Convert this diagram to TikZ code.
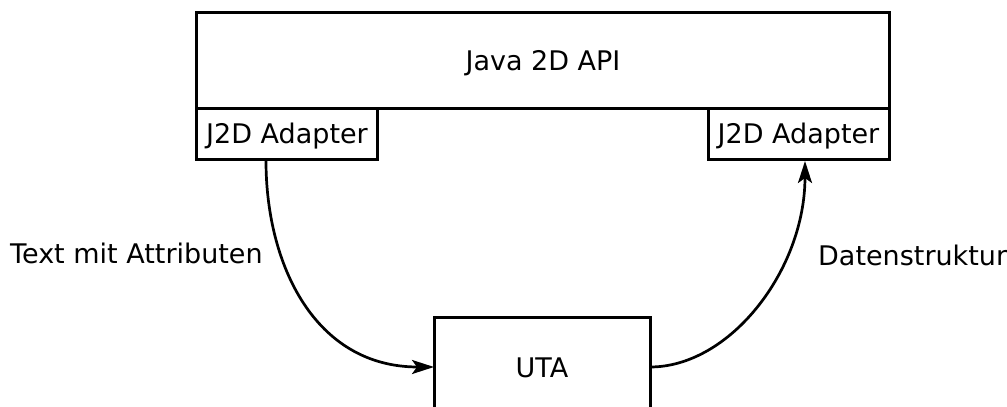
\documentclass[tikz,border=0pt]{standalone}
\usepackage{fontspec}
\setmainfont{DejaVu Sans}
\usetikzlibrary{arrows.meta}
\begin{document}
\begin{tikzpicture}[x=1pt,y=-1pt,
  box/.style={draw,line width=3pt},
  lbl/.style={font=\fontsize{27}{32}\selectfont,inner sep=0pt,anchor=base},
  conn/.style={line width=2.7pt,-{Stealth[length=22pt,width=14pt,inset=5pt]}}]
\useasboundingbox (0,0) rectangle (1007,407);
\draw[box] (196,12) rectangle (889,108);
\node[lbl] (api) at (543,70) {Java 2D API};
\draw[box] (196,108) rectangle (377,159);
\node[lbl] (la) at (287,143) {J2D Adapter};
\draw[box] (708,108) rectangle (889,159);
\node[lbl] (ra) at (798.5,143) {J2D Adapter};
\draw[box] (434,317) rectangle (650,420);
\node[lbl] (uta) at (542,377) {UTA};
\coordinate (l0) at (266,161);
\coordinate (l1) at (434,367);
\coordinate (r0) at (650,367);
\coordinate (r1) at (805,161);
\draw[conn] (l0) .. controls (266,265) and (315,367) .. (l1);
\draw[conn] (r0) .. controls (730,367) and (805,270) .. (r1);
\node[lbl,anchor=base west] (t1) at (10,263) {Text mit Attributen};
\node[lbl,anchor=base west] (t2) at (818,265) {Datenstruktur};
\end{tikzpicture}
\end{document}
